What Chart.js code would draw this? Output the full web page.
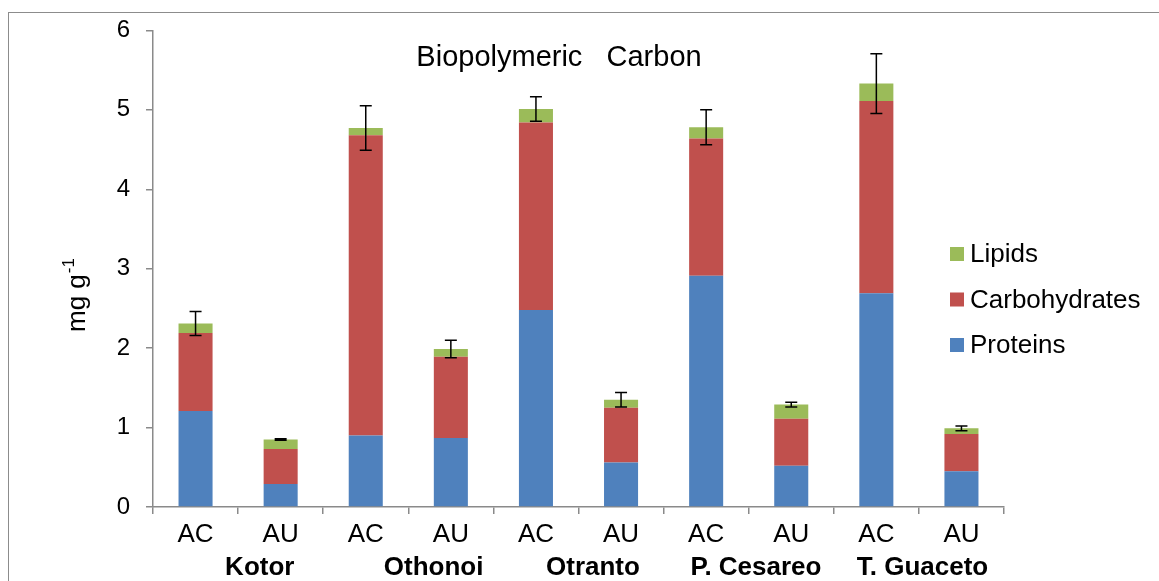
<!DOCTYPE html>
<html>
<head>
<meta charset="utf-8">
<title>Biopolymeric Carbon</title>
<script src="https://cdn.jsdelivr.net/npm/chart.js@4.4.1/dist/chart.umd.min.js"></script>
<style>
    html, body { margin: 0; padding: 0; background: #fff; }
    #wrap { width: 1159px; height: 581px; }
</style>
</head>
<body>
<div id="wrap"><canvas id="chart"></canvas></div>
<script>
// DATA -----------------------------------------------------------------------

const samples = ['AC', 'AU', 'AC', 'AU', 'AC', 'AU', 'AC', 'AU', 'AC', 'AU']
// site names as typed in the sheet (leading blanks included)
const sites = ['      Kotor', '       Othonoi', '    Otranto', '  P. Cesareo', ' T. Guaceto']

const proteins      = [1.21, 0.29, 0.90, 0.87, 2.48, 0.56, 2.91, 0.52, 2.69, 0.45]
const carbohydrates = [0.98, 0.44, 3.78, 1.02, 2.36, 0.69, 1.73, 0.59, 2.42, 0.47]
const lipids        = [0.12, 0.12, 0.09, 0.10, 0.17, 0.10, 0.14, 0.18, 0.22, 0.07]
const errors        = [0.15, 0.01, 0.28, 0.11, 0.155, 0.09, 0.22, 0.03, 0.375, 0.03]

const chartTitle = 'Biopolymeric   Carbon'
const yTitle = 'mg g'
const yTitleSup = '-1'

// SETTINGS -------------------------------------------------------------------

const font = '"Liberation Sans", Arial, sans-serif'
const axisColor = '#8a8a8a'
const colors = {proteins: '#4F81BD', carbohydrates: '#C0504D', lipids: '#9BBB59'}

// PLUGINS --------------------------------------------------------------------

// outer chart frame (only left and top edges are in the picture)
const framePlugin = {
    id: 'frame',
    beforeDraw(chart) {
        const ctx = chart.ctx
        ctx.save()
        ctx.fillStyle = '#fff'
        ctx.fillRect(0, 0, chart.width, chart.height)
        ctx.strokeStyle = '#8c8c8c'
        ctx.lineWidth = 1
        ctx.strokeRect(8.5, 12.5, chart.width + 20, chart.height + 20)
        ctx.restore()
    }
}

function totalAt(i) {
    return proteins[i] + carbohydrates[i] + lipids[i]
}

const errorBarPlugin = {
    id: 'errorBars',
    afterDatasetsDraw(chart) {
        const ctx = chart.ctx
        const y = chart.scales.y
        const meta = chart.getDatasetMeta(chart.data.datasets.length - 1)
        ctx.save()
        ctx.strokeStyle = '#000'
        ctx.lineWidth = 1.5
        meta.data.forEach((bar, i) => {
            const t = totalAt(i)
            const top = y.getPixelForValue(t + errors[i])
            const bottom = y.getPixelForValue(t - errors[i])
            ctx.beginPath()
            ctx.moveTo(bar.x, top)
            ctx.lineTo(bar.x, bottom)
            ctx.moveTo(bar.x - 6, top)
            ctx.lineTo(bar.x + 6, top)
            ctx.moveTo(bar.x - 6, bottom)
            ctx.lineTo(bar.x + 6, bottom)
            ctx.stroke()
        })
        ctx.restore()
    }
}

// title inside the plot, y axis title with superscript, legend on the right
const textPlugin = {
    id: 'texts',
    afterDraw(chart) {
        const ctx = chart.ctx
        ctx.save()
        ctx.fillStyle = '#000'

        // title
        ctx.font = `29px ${font}`
        ctx.textAlign = 'center'
        ctx.textBaseline = 'alphabetic'
        ctx.fillText(chartTitle, 559, 66)

        // y title
        ctx.translate(85, 332)
        ctx.rotate(-Math.PI / 2)
        ctx.textAlign = 'left'
        ctx.font = `26px ${font}`
        ctx.fillText(yTitle, 0, 0)
        const w = ctx.measureText(yTitle).width
        ctx.font = `17px ${font}`
        ctx.fillText(yTitleSup, w + 1, -11)
        ctx.setTransform(1, 0, 0, 1, 0, 0)

        // legend (reversed order, like the stack)
        const items = chart.data.datasets.slice().reverse()
        ctx.font = `26px ${font}`
        ctx.textBaseline = 'middle'
        items.forEach((ds, k) => {
            const cy = 254 + k * 45.5
            ctx.fillStyle = ds.backgroundColor
            ctx.fillRect(950, cy - 7, 14, 14)
            ctx.fillStyle = '#000'
            ctx.fillText(ds.label, 970, cy + 1)
        })
        ctx.restore()
    }
}

// CHART ----------------------------------------------------------------------

function getDataset(label, data, color) {
    return {
        label: label,
        data: data,
        backgroundColor: color,
        borderWidth: 0,
        categoryPercentage: 1,
        barPercentage: 0.4
    }
}

new Chart(document.getElementById('chart'), {
    type: 'bar',
    data: {
        labels: samples,
        datasets: [
            getDataset('Proteins', proteins, colors.proteins),
            getDataset('Carbohydrates', carbohydrates, colors.carbohydrates),
            getDataset('Lipids', lipids, colors.lipids)
        ]
    },
    options: {
        responsive: true,
        maintainAspectRatio: false,
        animation: false,
        layout: {
            padding: {left: 0, right: 155, top: 29, bottom: 2}
        },
        plugins: {
            legend: {display: false},
            title: {display: false},
            tooltip: {enabled: false}
        },
        scales: {
            x: {
                stacked: true,
                grid: {offset: true, drawOnChartArea: false, tickLength: 7, color: axisColor, lineWidth: 1.5},
                border: {color: axisColor, width: 1.5},
                ticks: {
                    color: '#000',
                    font: {family: font, size: 26, lineHeight: 1},
                    padding: 8,
                    maxRotation: 0,
                    autoSkip: false
                },
                afterFit(scale) { scale.height = 40 }
            },
            x2: {
                type: 'category',
                labels: sites,
                position: 'bottom',
                grid: {display: false},
                border: {display: false},
                ticks: {
                    color: '#000',
                    font: {family: font, size: 26, weight: 'bold', lineHeight: 1},
                    padding: 0,
                    maxRotation: 0,
                    autoSkip: false
                },
                afterFit(scale) { scale.height = 32 }
            },
            y: {
                stacked: true,
                min: 0,
                max: 6,
                grid: {drawOnChartArea: false, tickLength: 7, color: axisColor, lineWidth: 1.5},
                border: {color: axisColor, width: 1.5},
                ticks: {
                    stepSize: 1,
                    color: '#000',
                    font: {family: font, size: 24},
                    padding: 16
                },
                afterFit(scale) { scale.width = 153 }
            }
        }
    },
    plugins: [framePlugin, errorBarPlugin, textPlugin]
});
</script>
</body>
</html>
